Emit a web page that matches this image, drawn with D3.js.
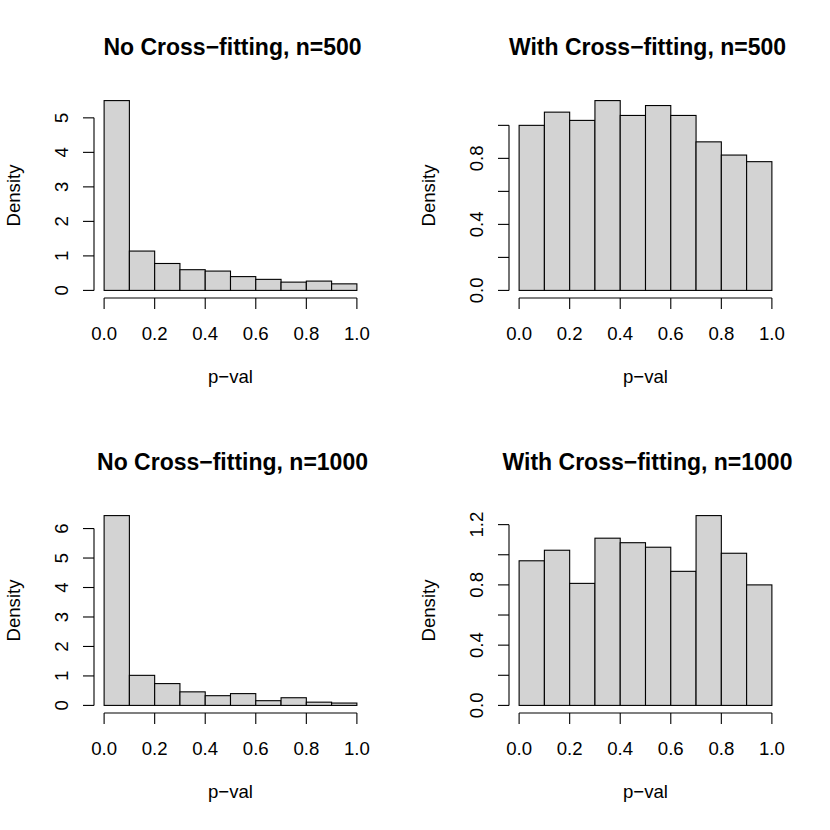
<!DOCTYPE html>
<html>
<head>
<meta charset="utf-8">
<script src="https://cdn.jsdelivr.net/npm/d3@7"></script>
<style>
  body { margin: 0; background: #fff; }
  svg text { font-family: "Liberation Sans", Arial, Helvetica, sans-serif; fill: #000; }
</style>
</head>
<body>
<svg id="chart" width="830" height="830"></svg>
<script>
// histogram breaks shared by all four panels
const breaks = [0, 0.1, 0.2, 0.3, 0.4, 0.5, 0.6, 0.7, 0.8, 0.9, 1.0];
const xTicks = [0, 0.2, 0.4, 0.6, 0.8, 1.0];

const titles = [
  "No Cross\u2212fitting, n=500",
  "With Cross\u2212fitting, n=500",
  "No Cross\u2212fitting, n=1000",
  "With Cross\u2212fitting, n=1000"
];

// densities
const noCf500 = [5.5, 1.14, 0.78, 0.6, 0.56, 0.4, 0.32, 0.24, 0.27, 0.19];
const cf500 = [1.0, 1.08, 1.03, 1.15, 1.06, 1.12, 1.06, 0.9, 0.82, 0.78];
const noCf1000 = [6.44, 1.02, 0.74, 0.46, 0.33, 0.4, 0.16, 0.26, 0.11, 0.08];
const cf1000 = [0.96, 1.03, 0.81, 1.11, 1.08, 1.05, 0.89, 1.26, 1.01, 0.8];

const yTicks = [
  [0, 1, 2, 3, 4, 5],
  [0, 0.2, 0.4, 0.6, 0.8, 1.0],
  [0, 1, 2, 3, 4, 5, 6],
  [0, 0.2, 0.4, 0.6, 0.8, 1.0, 1.2]
];
// R drops labels that would overlap
const yLabels = [
  ["0", "1", "2", "3", "4", "5"],
  ["0.0", "", "0.4", "", "0.8", ""],
  ["0", "1", "2", "3", "4", "5", "6"],
  ["0.0", "", "0.4", "", "0.8", "", "1.2"]
];

const series = [noCf500, cf500, noCf1000, cf1000];

const AXIS_FONT = 18.6;
const TITLE_FONT = 23;
const PANEL = 415;
const plot = { left: 94, top: 93, width: 273, height: 205 };
const TICK = 11;

const svg = d3.select("#chart");

function translate(x, y) {
  return "translate(" + x + "," + y + ")";
}

for (let p = 0; p < 4; p++) {
  const col = p % 2, row = Math.floor(p / 2);
  const g = svg.append("g").attr("transform", translate(col * PANEL, row * PANEL));
  const dens = series[p];
  const maxD = d3.max(dens);

  // R extends the ranges by 4% on both sides
  const x = d3.scaleLinear().domain([-0.04, 1.04])
    .range([plot.left, plot.left + plot.width]);
  const y = d3.scaleLinear().domain([-0.04 * maxD, 1.04 * maxD])
    .range([plot.top + plot.height, plot.top]);

  const bins = dens.map((d, i) => ({ x0: breaks[i], x1: breaks[i + 1], d: d }));

  g.selectAll("rect.bar")
    .data(bins)
    .enter()
    .append("rect")
    .attr("class", "bar")
    .attr("x", d => x(d.x0))
    .attr("y", d => y(d.d))
    .attr("width", d => x(d.x1) - x(d.x0))
    .attr("height", d => y(0) - y(d.d))
    .style("fill", "#d3d3d3")
    .style("stroke", "#000")
    .style("stroke-width", 1.1);

  // x axis
  const xb = plot.top + plot.height;
  g.append("line")
    .attr("x1", x(0)).attr("x2", x(1))
    .attr("y1", xb).attr("y2", xb)
    .style("stroke", "#000").style("stroke-width", 1.1);
  xTicks.forEach(t => {
    g.append("line")
      .attr("x1", x(t)).attr("x2", x(t))
      .attr("y1", xb).attr("y2", xb + TICK)
      .style("stroke", "#000").style("stroke-width", 1.1);
    g.append("text")
      .attr("x", x(t)).attr("y", xb + 42)
      .attr("text-anchor", "middle")
      .style("font-size", AXIS_FONT + "px")
      .text(d3.format(".1f")(t));
  });

  // y axis
  const yl = plot.left;
  const yt = yTicks[p];
  g.append("line")
    .attr("x1", yl).attr("x2", yl)
    .attr("y1", y(yt[0])).attr("y2", y(yt[yt.length - 1]))
    .style("stroke", "#000").style("stroke-width", 1.1);
  yt.forEach((t, i) => {
    g.append("line")
      .attr("x1", yl - TICK).attr("x2", yl)
      .attr("y1", y(t)).attr("y2", y(t))
      .style("stroke", "#000").style("stroke-width", 1.1);
    if (yLabels[p][i]) {
      g.append("text")
        .attr("transform", translate(yl - 26, y(t)) + "rotate(-90)")
        .attr("text-anchor", "middle")
        .style("font-size", AXIS_FONT + "px")
        .text(yLabels[p][i]);
    }
  });

  // labels
  g.append("text")
    .attr("transform", translate(20, plot.top + plot.height / 2) + "rotate(-90)")
    .attr("text-anchor", "middle")
    .style("font-size", AXIS_FONT + "px")
    .text("Density");
  g.append("text")
    .attr("x", plot.left + plot.width / 2).attr("y", xb + 85)
    .attr("text-anchor", "middle")
    .style("font-size", AXIS_FONT + "px")
    .text("p\u2212val");
  g.append("text")
    .attr("x", plot.left + plot.width / 2 + 2).attr("y", 55)
    .attr("text-anchor", "middle")
    .style("font-size", TITLE_FONT + "px")
    .style("font-weight", "bold")
    .text(titles[p]);
}
</script>
</body>
</html>
